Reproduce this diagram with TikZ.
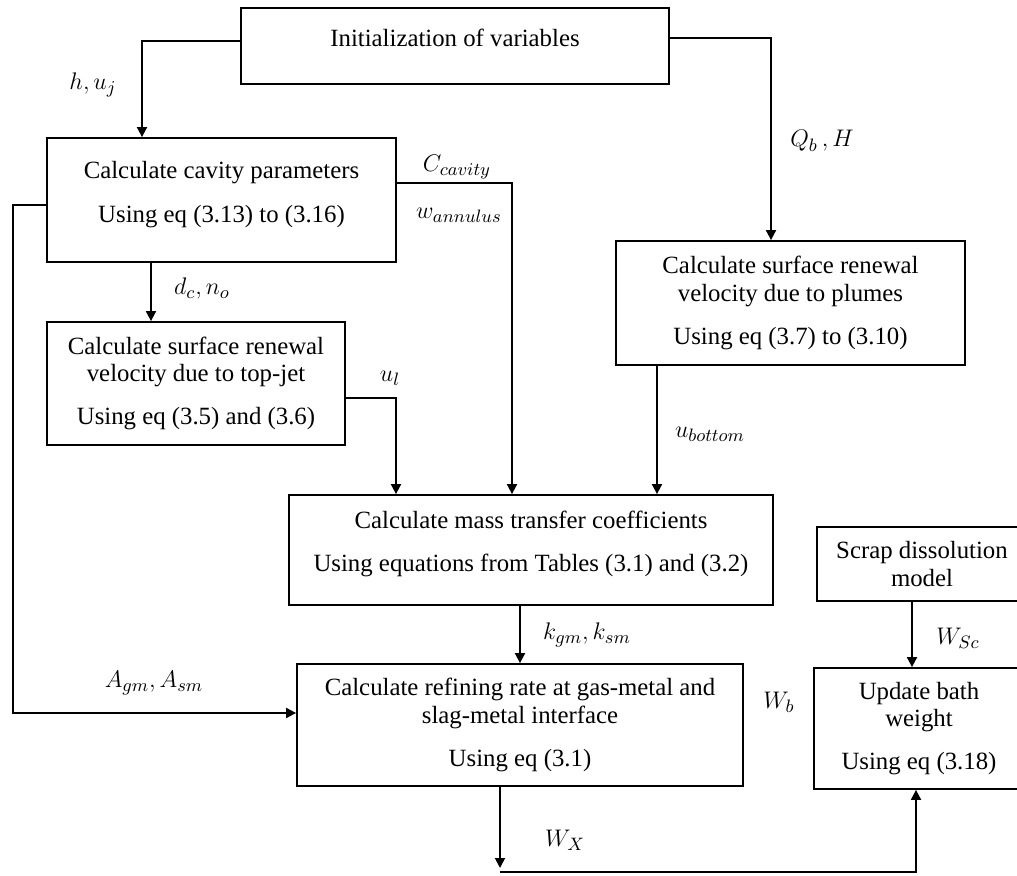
\documentclass[tikz,border=0pt]{standalone}
\usepackage{fontspec}
\setmainfont{Liberation Serif}
\usepackage{tikz}
\usetikzlibrary{arrows.meta}
\tikzset{
	box/.style={draw, line width=0.9pt, align=center, inner sep=0pt, font=\fontsize{12.4}{13.6}\selectfont},
	lbl/.style={inner sep=0pt, font=\fontsize{12.4}{13.6}\selectfont},
	arr/.style={line width=0.9pt, -{Triangle[length=5pt,width=5pt]}},
	ln/.style={line width=0.9pt}
}

\begin{document}
\begin{tikzpicture}[x=0.5pt, y=-0.5pt]
			%%%%% START %%%%%
			\useasboundingbox (0,0) rectangle (1017,876);
			\clip (0,0) rectangle (1017,876);
			
			\node[box, minimum width=214pt, minimum height=38pt, text depth=8pt] (init) at (455,46) {Initialization of variables};
			\node[box, minimum width=174.5pt, minimum height=62pt, text depth=8pt] (cav) at (221.5,200) {Calculate cavity parameters\\[8pt]Using eq (3.13) to (3.16)};
			\node[box, minimum width=149pt, minimum height=61.5pt] (tj) at (196,383.5) {Calculate surface renewal\\velocity due to top-jet\\[8pt]Using eq (3.5) and (3.6)};
			\node[box, minimum width=174.5pt, minimum height=62pt] (plu) at (790.5,303) {Calculate surface renewal\\velocity due to plumes\\[8pt]Using eq (3.7) to (3.10)};
			\node[box, minimum width=242pt, minimum height=55pt, text depth=9pt] (mass) at (531,550) {Calculate mass transfer coefficients\\[8pt]Using equations from Tables (3.1) and (3.2)};
			\node[box, minimum width=223pt, minimum height=61pt] (ref) at (520,725) {Calculate refining rate at gas-metal and\\slag-metal interface\\[8pt]Using eq (3.1)};
			\node[box, minimum width=105pt, minimum height=37pt] (scr) at (922,564) {Scrap dissolution\\model};
			\node[box, minimum width=105pt, minimum height=60.5pt] (upd) at (919,728.5) {Update bath\\weight\\[8pt]Using eq (3.18)};
			
			\draw[arr] (init.west |- 0,41) -| (cav.north -| 142,0);
			\node[lbl] (lh) at (93,85) {$h, u_j$};
			
			\draw[arr] (init.east |- 0,38) -| (plu.north -| 771,0);
			\node[lbl] (lq) at (822,141) {$Q_b\,, H$};
			
			\draw[arr] (cav.east |- 0,183) -| (mass.north -| 512,0);
			\node[lbl] (lc) at (457,167) {$C_{cavity}$};
			\node[lbl] (lw) at (459,215) {$w_{annulus}$};
			
			\draw[arr] (cav.west |- 0,205) -| (13,713) -- (ref.west |- 0,713);
			\node[lbl] (la) at (154,683) {$A_{gm}, A_{sm}$};
			
			\draw[arr] (cav.south -| 151,0) -- (tj.north -| 151,0);
			\node[lbl] (ld) at (202,289) {$d_c, n_o$};
			
			\draw[arr] (tj.east |- 0,398) -| (mass.north -| 396,0);
			\node[lbl] (lu) at (390,378) {$u_l$};
			
			\draw[arr] (plu.south -| 657,0) -- (mass.north -| 657,0);
			\node[lbl] (lb) at (710,434) {$u_{bottom}$};
			
			\draw[arr] (mass.south -| 520,0) -- (ref.north -| 520,0);
			\node[lbl] (lk) at (587,635) {$k_{gm}, k_{sm}$};
			
			\draw[arr] (scr.south -| 912,0) -- (upd.north -| 912,0);
			\node[lbl] (ls) at (958,638) {$W_{Sc}$};
			\node[lbl] (lwb) at (779,702) {$W_b$};
			
			\coordinate (wx) at (500,872);
			\draw[arr] (ref.south -| wx) -- ([yshift=2pt]wx);
			\draw[arr] (wx) -| (upd.south -| 916,0);
			\node[lbl] (lx) at (565,840) {$W_X$};
			
			%%%%% END %%%%%
		\end{tikzpicture}
\end{document}
